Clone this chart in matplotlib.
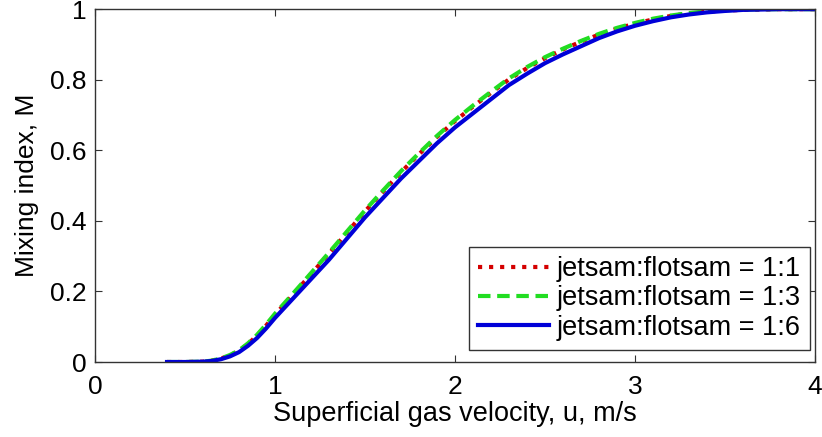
import matplotlib
matplotlib.use('Agg')
import matplotlib.pyplot as plt

plt.rcParams['font.family'] = ['Liberation Sans', 'DejaVu Sans']

# superficial gas velocity, m/s
u = [0.4, 0.5, 0.6, 0.65, 0.7, 0.75, 0.8, 0.85, 0.9, 0.95, 1.0, 1.1, 1.2, 1.3, 1.4, 1.5,
     1.6, 1.7, 1.8, 1.9, 2.0, 2.1, 2.2, 2.3, 2.4, 2.5, 2.6, 2.7, 2.8, 2.9, 3.0, 3.1,
     3.2, 3.3, 3.4, 3.5, 3.6, 3.7, 3.8, 3.9, 4.0]

m_1_1 = [0.0, 0.0, 0.001, 0.004, 0.010, 0.019, 0.032, 0.051, 0.075, 0.103, 0.134, 0.191,
         0.249, 0.307, 0.367, 0.427, 0.483, 0.538, 0.589, 0.638, 0.683, 0.724, 0.763,
         0.801, 0.833, 0.861, 0.886, 0.908, 0.928, 0.945, 0.959, 0.971, 0.981, 0.988,
         0.993, 0.996, 0.998, 0.999, 1.0, 1.0, 1.0]

m_1_3 = [0.0, 0.0, 0.001, 0.004, 0.010, 0.020, 0.033, 0.053, 0.077, 0.106, 0.137, 0.194,
         0.252, 0.310, 0.370, 0.430, 0.486, 0.541, 0.592, 0.641, 0.686, 0.727, 0.766,
         0.804, 0.836, 0.864, 0.888, 0.910, 0.930, 0.947, 0.961, 0.973, 0.982, 0.989,
         0.994, 0.997, 0.999, 1.0, 1.0, 1.0, 1.0]

m_1_6 = [0.0, 0.0, 0.001, 0.003, 0.008, 0.016, 0.028, 0.046, 0.068, 0.095, 0.125, 0.180,
         0.235, 0.290, 0.350, 0.410, 0.465, 0.520, 0.570, 0.620, 0.665, 0.705, 0.745,
         0.785, 0.817, 0.847, 0.872, 0.895, 0.918, 0.937, 0.953, 0.966, 0.977, 0.985,
         0.991, 0.995, 0.998, 0.999, 1.0, 1.0, 1.0]

labels = ['jetsam:flotsam = 1:1', 'jetsam:flotsam = 1:3', 'jetsam:flotsam = 1:6']

fig = plt.figure(figsize=(8.22, 4.37), dpi=100)
ax = fig.add_axes([0.1156, 0.1716, 0.8759, 0.8074])

ax.plot(u, m_1_1, color='#d40000', linestyle=':', linewidth=3, label=labels[0])
ax.plot(u, m_1_3, color='#22dd22', linestyle=(0, (3, 1.6)), linewidth=3, label=labels[1])
ax.plot(u, m_1_6, color='#0000d8', linestyle='-', linewidth=3, label=labels[2])

ax.set_xlim(0, 4)
ax.set_ylim(0, 1)
ax.set_xticks([0, 1, 2, 3, 4])
ax.set_xticklabels(['0', '1', '2', '3', '4'])
ax.set_yticks([0, 0.2, 0.4, 0.6, 0.8, 1])
ax.set_yticklabels(['0', '0.2', '0.4', '0.6', '0.8', '1'])
ax.tick_params(direction='in', length=5, width=0.8, color='#333333',
               top=True, right=True, labelsize=19)
ax.tick_params(axis='x', pad=9)
ax.tick_params(axis='y', pad=6)
for s in ax.spines.values():
    s.set_color('#333333')
    s.set_linewidth(1)

ax.set_xlabel('Superficial gas velocity, u, m/s', fontsize=19.5, labelpad=2)
ax.set_ylabel('Mixing index, M', fontsize=19, labelpad=8)

leg = ax.legend(loc='lower right', bbox_to_anchor=(0.9935, 0.034), fontsize=19.5,
                handlelength=2.6, handletextpad=0.3, borderpad=0.35, labelspacing=0.12,
                borderaxespad=0, fancybox=False, framealpha=1)
leg.get_frame().set_edgecolor('#333333')
leg.get_frame().set_linewidth(1)

fig.savefig('out.png', dpi=100)
